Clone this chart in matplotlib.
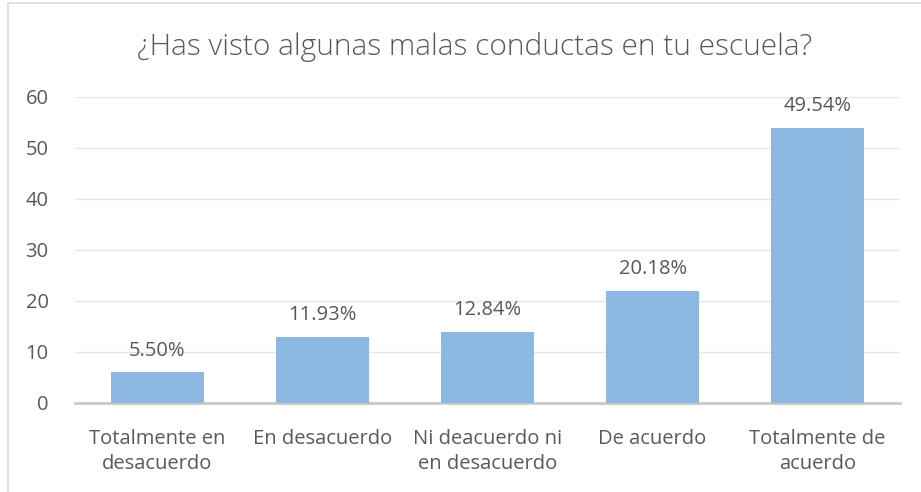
import numpy as np
import matplotlib.pyplot as plt
from matplotlib.patches import Rectangle

# data
categories = ['Totalmente en\ndesacuerdo', 'En desacuerdo', 'Ni deacuerdo ni\nen desacuerdo',
              'De acuerdo', 'Totalmente de\nacuerdo']
counts = [6, 13, 14, 22, 54]
labels = ['5.50%', '11.93%', '12.84%', '20.18%', '49.54%']

plt.rcParams['font.family'] = ['Open Sans', 'DejaVu Sans']
grey = '#595959'

fig = plt.figure(figsize=(9.21, 4.92), dpi=100)
ax = fig.add_axes([0.0814, 0.181, 0.896, 0.622])

x = np.arange(len(categories))
ax.bar(x, counts, width=0.56, color='#8db8e2', zorder=3)
for xi, c, lab in zip(x, counts, labels):
    ax.text(xi, c + 2.3, lab, ha='center', va='bottom', fontsize=14.5, color=grey)

ax.set_xlim(-0.5, len(categories) - 0.5)
ax.set_ylim(0, 60)
ax.set_yticks(range(0, 61, 10))
ax.set_xticks(x)
ax.set_xticklabels(categories, fontsize=14.5, color=grey, linespacing=1.3)
ax.tick_params(axis='y', labelsize=14.5, labelcolor=grey, length=0, pad=19)
ax.tick_params(axis='x', length=0, pad=19)
ax.grid(axis='y', color='#e6e6e6', linewidth=1, zorder=0)
for s in ['top', 'right', 'left']:
    ax.spines[s].set_visible(False)
ax.spines['bottom'].set_color('#c8c8c8')
ax.spines['bottom'].set_linewidth(2)

fig.text(0.515, 0.904, '¿Has visto algunas malas conductas en tu escuela?', ha='center',
         va='center', fontsize=21.5, color=grey, fontweight='light')

# chart border
fig.patches.append(Rectangle((0.009, -0.01), 1.0, 1.004, transform=fig.transFigure,
                             fill=False, edgecolor='#d9d9d9', linewidth=1.2))

fig.savefig('out.png', dpi=100)
